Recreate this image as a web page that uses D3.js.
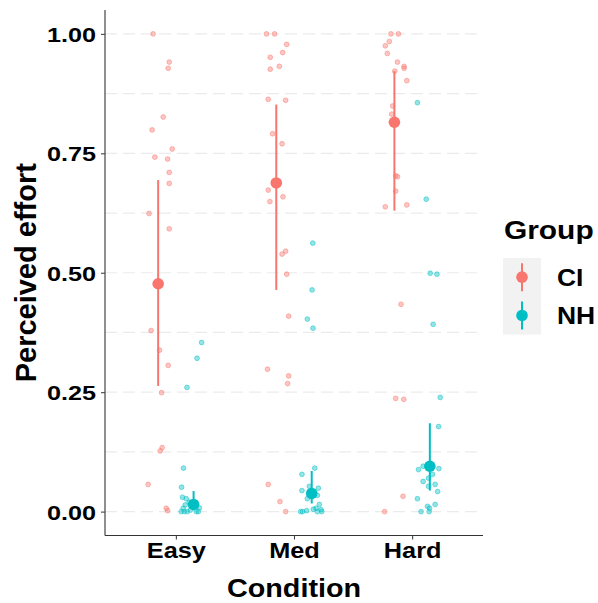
<!DOCTYPE html>
<html>
<head>
<meta charset="utf-8">
<script src="https://cdn.jsdelivr.net/npm/d3@7"></script>
<style>
  body { margin: 0; background: #fff; }
  svg { display: block; }
  text { font-family: "Liberation Sans", Arial, sans-serif; font-weight: bold; fill: #000; }
</style>
</head>
<body>
<svg id="chart" width="598" height="603"></svg>
<script>
// ---- data -------------------------------------------------------------
const conditions = ["Easy", "Med", "Hard"];
const groups = ["CI", "NH"];
const yTicks = [0, 0.25, 0.5, 0.75, 1];
const yMinorTicks = [0.125, 0.375, 0.625, 0.875];

// individual ratings: [perceived effort, horizontal jitter in category units]
const ciEasy = [[1.00,-0.043],[0.941,0.094],[0.928,0.085],[0.826,0.043],[0.799,-0.051],[0.759,0.119],[0.742,-0.028],[0.738,0.080],[0.710,0.094],[0.687,0.094],[0.624,-0.077],[0.592,0.094],[0.379,-0.060],[0.338,0.012],[0.306,0.085],[0.249,0.029],[0.134,0.034],[0.127,0.017],[0.057,-0.085],[0.007,0.068],[0.002,0.080]];
const ciMed = [[1.00,-0.083],[1.00,-0.014],[0.978,0.088],[0.961,0.054],[0.951,-0.051],[0.932,0.026],[0.926,-0.051],[0.863,-0.068],[0.861,0.079],[0.791,-0.031],[0.770,0.049],[0.673,-0.068],[0.659,0.057],[0.649,-0.054],[0.545,0.079],[0.539,0.049],[0.497,0.088],[0.409,0.105],[0.298,-0.074],[0.284,0.105],[0.268,0.096],[0.057,-0.068],[0.021,0.031],[0.000,0.079]];
const ciHard = [[1.00,-0.029],[1.00,0.034],[0.984,-0.043],[0.975,-0.077],[0.959,-0.060],[0.941,0.026],[0.932,0.082],[0.928,0.082],[0.922,0.003],[0.902,0.105],[0.849,-0.014],[0.832,-0.023],[0.703,0.011],[0.701,0.026],[0.671,0.011],[0.638,-0.077],[0.642,0.105],[0.434,0.056],[0.237,0.011],[0.235,0.079],[0.032,0.073],[0.000,-0.083]];
const nhEasy = [[0.354,0.068],[0.321,0.029],[0.260,-0.056],[0.091,-0.085],[0.051,-0.102],[0.030,-0.094],[0.027,-0.062],[0.000,-0.105],[0.000,-0.079],[0.000,-0.054],[0.003,-0.028],[0.012,-0.003],[0.000,0.023],[0.000,0.040],[0.008,0.049],[0.014,-0.071],[0.007,-0.088],[0.020,-0.037]];
const nhMed = [[0.562,0.009],[0.464,0.003],[0.403,-0.037],[0.384,0.011],[0.091,0.026],[0.078,-0.083],[0.053,-0.020],[0.049,0.056],[0.044,-0.083],[0.027,-0.037],[0.034,0.048],[0.015,0.065],[0.005,0.014],[0.007,0.037],[0.000,-0.094],[0.000,-0.077],[0.002,-0.043],[0.000,0.048],[0.004,0.079],[0.000,0.085]];
const nhHard = [[0.856,-0.105],[0.654,-0.031],[0.499,0.003],[0.497,0.060],[0.392,0.028],[0.239,0.088],[0.178,0.074],[0.095,-0.057],[0.088,-0.096],[0.090,0.077],[0.078,0.023],[0.070,-0.011],[0.063,-0.057],[0.057,0.045],[0.053,-0.011],[0.042,0.066],[0.027,-0.105],[0.015,0.045],[0.011,-0.020],[0.007,-0.003],[0.000,-0.074],[0.000,-0.006]];

// group estimates per condition (Easy, Med, Hard)
const ciMean  = [0.477, 0.688, 0.815];
const ciLower = [0.263, 0.464, 0.630];
const ciUpper = [0.694, 0.852, 0.922];
const nhMean  = [0.015, 0.038, 0.095];
const nhLower = [0.003, 0.017, 0.044];
const nhUpper = [0.043, 0.085, 0.185];

// ---- layout -----------------------------------------------------------
const colors = { CI: "#F8766D", NH: "#00BFC4" };
const panel = { left: 105, right: 483, top: 10, bottom: 535.5 };
const textStretch = 1.15;

const svg = d3.select("#chart");

const x = d3.scalePoint().domain(conditions).range([panel.left, panel.right]).padding(0.6);
const y = d3.scaleLinear().domain([-0.05, 1.05]).range([panel.bottom, panel.top]);
const step = x.step();
const dodge = { CI: -0.15, NH: 0.15 };

const rows = [];
const addRows = (arr, cond, grp) => arr.forEach(([v, j]) => rows.push({ cond, grp, v, j }));
addRows(ciEasy, "Easy", "CI"); addRows(ciMed, "Med", "CI"); addRows(ciHard, "Hard", "CI");
addRows(nhEasy, "Easy", "NH"); addRows(nhMed, "Med", "NH"); addRows(nhHard, "Hard", "NH");

const summary = [];
conditions.forEach((c, i) => {
  summary.push({ cond: c, grp: "CI", m: ciMean[i], lo: ciLower[i], hi: ciUpper[i] });
  summary.push({ cond: c, grp: "NH", m: nhMean[i], lo: nhLower[i], hi: nhUpper[i] });
});

const xPos = (cond, grp, j = 0) => x(cond) + (dodge[grp] + j) * step;

// ---- grid -------------------------------------------------------------
const grid = svg.append("g");
grid.selectAll("line")
  .data(yTicks.concat(yMinorTicks))
  .join("line")
  .attr("x1", panel.left).attr("x2", panel.right)
  .attr("y1", d => y(d)).attr("y2", d => y(d))
  .attr("stroke", "#ebebeb").attr("stroke-width", 1.2)
  .attr("stroke-dasharray", "12,6");

// ---- jittered observations -------------------------------------------
svg.append("g").selectAll("circle")
  .data(rows)
  .join("circle")
  .attr("cx", d => xPos(d.cond, d.grp, d.j))
  .attr("cy", d => y(d.v))
  .attr("r", 2.4)
  .attr("fill", d => colors[d.grp]).attr("fill-opacity", 0.42)
  .attr("stroke", d => colors[d.grp]).attr("stroke-opacity", 0.6).attr("stroke-width", 0.8);

// ---- point ranges -----------------------------------------------------
const pr = svg.append("g").selectAll("g").data(summary).join("g");
pr.append("line")
  .attr("x1", d => xPos(d.cond, d.grp)).attr("x2", d => xPos(d.cond, d.grp))
  .attr("y1", d => y(d.lo)).attr("y2", d => y(d.hi))
  .attr("stroke", d => colors[d.grp]).attr("stroke-width", 2);
pr.append("circle")
  .attr("cx", d => xPos(d.cond, d.grp)).attr("cy", d => y(d.m))
  .attr("r", 5.8).attr("fill", d => colors[d.grp]);

// ---- axes -------------------------------------------------------------
const yAxis = svg.append("g")
  .attr("transform", `translate(${panel.left},0)`)
  .call(d3.axisLeft(y).tickValues(yTicks).tickFormat(d3.format(".2f")).tickSize(4).tickSizeOuter(0));
const xAxis = svg.append("g")
  .attr("transform", `translate(0,${panel.bottom})`)
  .call(d3.axisBottom(x).tickSize(4).tickSizeOuter(0));

[yAxis, xAxis].forEach(a => {
  a.select(".domain").attr("stroke", "#333").attr("stroke-width", 1.1);
  a.selectAll(".tick line").attr("stroke", "#444").attr("stroke-width", 1.1);
});
// the axis lines span the whole panel
yAxis.select(".domain").attr("d", `M0,${panel.top}V${panel.bottom}`);
xAxis.select(".domain").attr("d", `M${panel.left},0H${panel.right}`);

const tickStretch = 1.2;
yAxis.selectAll(".tick text")
  .attr("font-size", 21).attr("fill", "#000")
  .attr("x", -9 / tickStretch).attr("dy", "0.36em")
  .attr("transform", `scale(${tickStretch},1)`);
xAxis.selectAll(".tick text")
  .attr("font-size", 22).attr("fill", "#000")
  .attr("y", 23).attr("dy", 0)
  .attr("transform", `scale(${textStretch},1)`);

// ---- titles -----------------------------------------------------------
svg.append("text")
  .attr("transform", `translate(${(panel.left + panel.right) / 2},597) scale(${textStretch},1)`)
  .attr("text-anchor", "middle").attr("font-size", 25)
  .text("Condition");
svg.append("text")
  .attr("transform", `translate(36,${(panel.top + panel.bottom) / 2}) rotate(-90)`)
  .attr("text-anchor", "middle").attr("font-size", 29)
  .text("Perceived effort");

// ---- legend -----------------------------------------------------------
const legend = svg.append("g").attr("transform", "translate(503,0)");
legend.append("text")
  .attr("transform", `translate(1,239) scale(${textStretch},1)`)
  .attr("font-size", 26).text("Group");
const keyH = 38.3, keyW = 38, keyTop = 258;
legend.append("rect")
  .attr("x", 0).attr("y", keyTop).attr("width", keyW).attr("height", keyH * groups.length)
  .attr("fill", "#f2f2f2");
const keys = legend.selectAll("g.key").data(groups).join("g")
  .attr("class", "key")
  .attr("transform", (d, i) => `translate(0,${keyTop + keyH * (i + 0.5)})`);
keys.append("line")
  .attr("x1", keyW / 2).attr("x2", keyW / 2).attr("y1", -14).attr("y2", 14)
  .attr("stroke", d => colors[d]).attr("stroke-width", 2);
keys.append("circle")
  .attr("cx", keyW / 2).attr("cy", 0).attr("r", 5.8).attr("fill", d => colors[d]);
keys.append("text")
  .attr("transform", `translate(54,8.5) scale(${textStretch},1)`)
  .attr("font-size", 23).text(d => d);
</script>
</body>
</html>
